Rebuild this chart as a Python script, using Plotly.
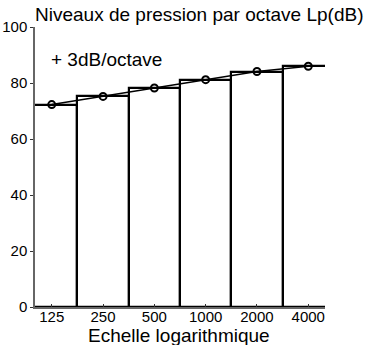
import plotly.graph_objects as go

freqs = ["125", "250", "500", "1000", "2000", "4000"]
levels = [72.3, 75.2, 78.2, 81.2, 84.1, 86.0]
y_ticks = [0, 20, 40, 60, 80, 100]
title_text = "Niveaux de pression par octave Lp(dB)"
xlabel_text = "Echelle logarithmique"
slope_text = "+ 3dB/octave"

pos = list(range(len(freqs)))
FONT = "Liberation Sans, Arial, sans-serif"

fig = go.Figure()
fig.add_trace(go.Bar(
    x=pos, y=levels, width=1,
    marker=dict(color="white", line=dict(color="black", width=2.2)),
    hoverinfo="skip",
))
fig.add_trace(go.Scatter(
    x=pos, y=levels, mode="lines+markers",
    line=dict(color="black", width=1.5),
    marker=dict(symbol="circle-open", size=7, color="black", line=dict(width=2)),
))

fig.update_layout(
    width=368, height=345,
    margin=dict(l=35, r=43, t=27, b=38, autoexpand=False),
    paper_bgcolor="white", plot_bgcolor="white",
    showlegend=False,
    font=dict(family=FONT, size=15, color="black"),
    bargap=0,
    xaxis=dict(
        range=[-0.326, 5.326], automargin=False,
        tickmode="array", tickvals=pos, ticktext=freqs,
        showgrid=False, zeroline=False,
        showline=True, linecolor="#666666", linewidth=1.5,
        ticks="inside", ticklen=3, tickcolor="#333333", tickwidth=1,
        tickfont=dict(size=15, family=FONT),
        ticklabelstandoff=-5,
    ),
    yaxis=dict(
        range=[0, 100], automargin=False,
        tickmode="array", tickvals=y_ticks,
        showgrid=False, zeroline=False,
        showline=True, linecolor="#666666", linewidth=1.5,
        ticks="outside", ticklen=3, tickcolor="#333333", tickwidth=1,
        tickfont=dict(size=15, family=FONT),
    ),
    annotations=[
        dict(text=title_text, xref="paper", yref="paper", x=0.567, y=1,
             xanchor="center", yanchor="bottom", showarrow=False,
             font=dict(size=19, family=FONT)),
        dict(text=xlabel_text, xref="paper", yref="paper", x=0.495, y=0,
             xanchor="center", yanchor="top", yshift=-17, borderpad=0,
             showarrow=False, font=dict(size=19, family=FONT)),
        dict(text=slope_text, xref="x", yref="y", x=-0.05, y=88.5,
             xanchor="left", yanchor="middle", showarrow=False,
             font=dict(size=19, family=FONT)),
    ],
)

fig.write_html("out.html")
